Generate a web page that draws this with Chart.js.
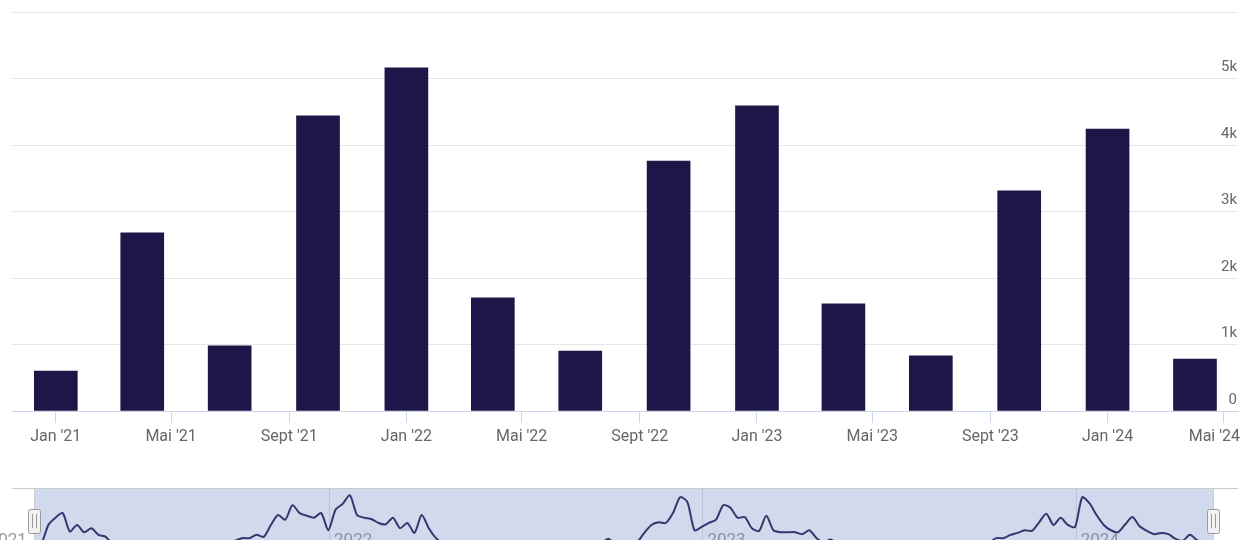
<!DOCTYPE html>
<html lang="de">
<head>
<meta charset="UTF-8">
<title>Quartalswerte</title>
<script src="https://cdn.jsdelivr.net/npm/chart.js@4.4.4/dist/chart.umd.min.js"></script>
<style>
  html, body { margin: 0; padding: 0; background: #fff; }
  body { width: 1240px; height: 540px; overflow: hidden; position: relative; }
  #main { position: absolute; left: 0; top: 0; }
  #nav { position: absolute; left: 0; top: 488px; }
</style>
</head>
<body>
<canvas id="main" width="1240" height="470"></canvas>
<canvas id="nav" width="1240" height="66"></canvas>
<script>
// Quarterly totals (bars)
const quarters = ['2021-01-01', '2021-04-01', '2021-07-01', '2021-10-01',
                  '2022-01-01', '2022-04-01', '2022-07-01', '2022-10-01',
                  '2023-01-01', '2023-04-01', '2023-07-01', '2023-10-01',
                  '2024-01-01', '2024-04-01'];
const values = [600, 2680, 980, 4440, 5160, 1700, 900, 3760, 4590, 1610, 830, 3310, 4240, 780];

// x axis ticks
const tickDates = ['2021-01-01', '2021-05-01', '2021-09-01', '2022-01-01', '2022-05-01', '2022-09-01',
                   '2023-01-01', '2023-05-01', '2023-09-01', '2024-01-01', '2024-05-01'];
const tickLabels = ["Jan '21", "Mai '21", "Sept '21", "Jan '22", "Mai '22", "Sept '22",
                    "Jan '23", "Mai '23", "Sept '23", "Jan '24", "Mai '24"];

// Navigator: weekly values (relative), ordinal positions
const navValues = [
  12, 15, 44, 55, 62, 34, 44, 33, 39, 29, 26, 14, 12, 10, 9, 11, 8, 10, 12, 9,
  11, 10, 13, 11, 9, 12, 14, 16, 20, 24, 24, 29, 26, 44, 59, 52, 74, 62, 58, 55,
  62, 36, 67, 76, 89, 59, 55, 53, 47, 45, 55, 39, 47, 32, 59, 39, 24, 16, 12, 10,
  8, 11, 9, 7, 10, 12, 9, 8, 11, 10, 13, 9, 8, 10, 12, 11, 9, 14, 12, 16,
  23, 14, 12, 16, 18, 32, 44, 48, 47, 62, 86, 79, 36, 41, 47, 52, 74, 70, 55, 56,
  39, 35, 58, 36, 33, 33, 33, 30, 36, 24, 18, 22, 14, 11, 9, 12, 10, 8, 11, 9,
  13, 10, 8, 12, 9, 11, 10, 14, 12, 9, 11, 15, 13, 17, 24, 24, 29, 32, 36, 35,
  48, 61, 44, 55, 44, 41, 86, 77, 59, 44, 36, 33, 45, 56, 42, 35, 30, 32, 30, 23,
  20, 29, 21, 16, 14
];
const navYears = ['2021', '2022', '2023', '2024'];
const navYearPos = [-7, 41.1, 93.1, 145.1];

const dayBase = Date.UTC(2021, 0, 1);
function day(s) {
  const p = s.split('-').map(Number);
  return (Date.UTC(p[0], p[1] - 1, p[2]) - dayBase) / 864e5;
}

const FONT = 'Roboto';

// x labels drawn by hand so the last one is kept inside the canvas
const xLabels = {
  id: 'xLabels',
  afterDraw(chart) {
    const ctx = chart.ctx, xs = chart.scales.x;
    ctx.save();
    ctx.font = '16px ' + FONT;
    ctx.fillStyle = '#666666';
    ctx.textBaseline = 'middle';
    ctx.textAlign = 'left';
    tickDates.forEach((d, i) => {
      const w = ctx.measureText(tickLabels[i]).width;
      let x = xs.getPixelForValue(day(d)) - w / 2;
      x = Math.min(x, chart.width - w);
      ctx.fillText(tickLabels[i], x, xs.top + 26);
    });
    ctx.restore();
  }
};

// main column chart
new Chart(document.getElementById('main'), {
  type: 'bar',
  data: {
    datasets: [{
      data: quarters.map((q, i) => ({ x: day(q), y: values[i] })),
      backgroundColor: '#1c1748',
      borderWidth: 0,
      barThickness: 43
    }]
  },
  options: {
    responsive: false,
    animation: false,
    devicePixelRatio: 1,
    layout: { padding: { top: 12, left: 12, right: 0, bottom: 0 } },
    plugins: { legend: { display: false }, tooltip: { enabled: false } },
    scales: {
      x: {
        type: 'linear',
        min: -45.6,
        max: 1230.8,
        offset: false,
        grid: { display: true, offset: false, drawOnChartArea: false, drawTicks: true, tickLength: 12, color: '#ccd6eb' },
        border: { display: true, color: '#ccd6eb' },
        ticks: { display: false },
        afterBuildTicks: s => { s.ticks = tickDates.map(d => ({ value: day(d) })); },
        afterFit: s => { s.height = 59; s.paddingLeft = 0; s.paddingRight = 0; }
      },
      y: {
        position: 'right',
        min: 0,
        max: 6000,
        ticks: {
          stepSize: 1000, mirror: true, padding: -1, labelOffset: -11,
          color: '#666666', font: { family: FONT, size: 15 },
          callback: v => v === 0 ? '0' : (v === 6000 ? '' : (v / 1000) + 'k')
        },
        grid: {
          drawTicks: false,
          color: ctx => (ctx.tick && ctx.tick.value === 0) ? 'rgba(0,0,0,0)' : '#e6e6e6'
        },
        border: { display: false },
        afterFit: s => { s.width = 2; s.paddingTop = 0; s.paddingBottom = 0; }
      }
    }
  },
  plugins: [xLabels]
});

// navigator decorations: year grid, labels, mask, outline, handles
const navDecor = {
  id: 'navDecor',
  beforeDatasetsDraw(chart) {
    const ctx = chart.ctx, xs = chart.scales.x, a = chart.chartArea;
    ctx.save();
    ctx.strokeStyle = '#e0e0e0';
    ctx.lineWidth = 1;
    navYearPos.forEach(p => {
      const x = Math.round(xs.getPixelForValue(p)) + 0.5;
      ctx.beginPath(); ctx.moveTo(x, a.top); ctx.lineTo(x, a.bottom); ctx.stroke();
    });
    ctx.restore();
  },
  afterDatasetsDraw(chart) {
    const ctx = chart.ctx, xs = chart.scales.x, a = chart.chartArea;
    ctx.save();
    // year labels
    ctx.fillStyle = '#999999';
    ctx.font = '17px ' + FONT;
    ctx.textBaseline = 'top';
    navYears.forEach((t, i) => {
      ctx.fillText(t, xs.getPixelForValue(navYearPos[i]) + 5, 44);
    });
    // selected range mask
    const x0 = Math.round(xs.getPixelForValue(0));
    const x1 = Math.round(xs.getPixelForValue(navValues.length - 1)) + 2;
    ctx.fillStyle = 'rgba(102,133,194,0.3)';
    ctx.fillRect(x0, a.top, x1 - x0, a.bottom - a.top);
    // outline
    ctx.strokeStyle = '#cccccc';
    ctx.lineWidth = 1;
    ctx.beginPath();
    ctx.moveTo(a.left, a.top + 0.5); ctx.lineTo(a.right, a.top + 0.5);
    ctx.moveTo(x0 + 0.5, a.top); ctx.lineTo(x0 + 0.5, a.bottom);
    ctx.moveTo(x1 + 0.5, a.top); ctx.lineTo(x1 + 0.5, a.bottom);
    ctx.stroke();
    // handles
    const cy = (a.top + a.bottom) / 2;
    [x0, x1].forEach(cx => {
      const l = cx - 6, t = Math.round(cy - 12);
      ctx.fillStyle = '#f2f2f2';
      ctx.strokeStyle = '#999999';
      ctx.beginPath();
      ctx.roundRect(l + 0.5, t + 0.5, 12, 24, 2);
      ctx.fill(); ctx.stroke();
      ctx.beginPath();
      ctx.moveTo(cx - 1.5, t + 5); ctx.lineTo(cx - 1.5, t + 19);
      ctx.moveTo(cx + 2.5, t + 5); ctx.lineTo(cx + 2.5, t + 19);
      ctx.stroke();
    });
    ctx.restore();
  }
};

new Chart(document.getElementById('nav'), {
  type: 'line',
  data: {
    datasets: [{
      data: navValues.map((v, i) => ({ x: i, y: v })),
      borderColor: '#1c1748',
      borderWidth: 2,
      pointRadius: 0,
      tension: 0.25,
      fill: false
    }]
  },
  options: {
    responsive: false,
    animation: false,
    devicePixelRatio: 1,
    layout: { padding: { top: 0, left: 12, right: 2, bottom: 0 } },
    plugins: { legend: { display: false }, tooltip: { enabled: false } },
    scales: {
      x: { type: 'linear', display: false, min: -3.06, max: 167.7 },
      y: { display: false, min: 0, max: 100 }
    }
  },
  plugins: [navDecor]
});
</script>
</body>
</html>
